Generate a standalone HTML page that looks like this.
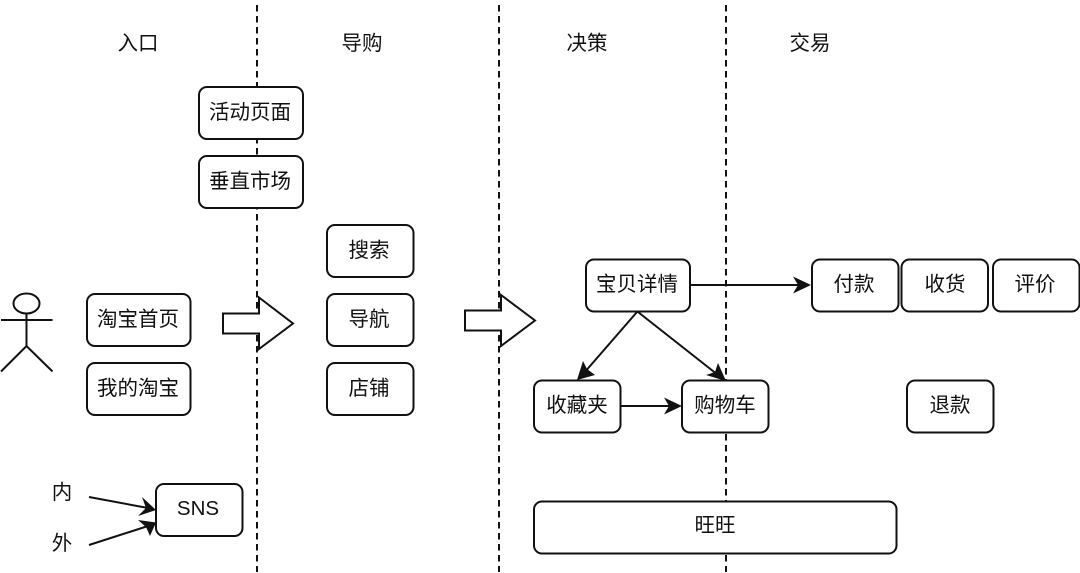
<!DOCTYPE html>
<html><head><meta charset="utf-8"><style>
html,body{margin:0;padding:0;background:#fff;width:1080px;height:573px;overflow:hidden}
svg{display:block}
text{font-family:"Liberation Sans","Noto Sans CJK SC",sans-serif;font-size:20.5px;fill:#111;text-anchor:middle}
.b{fill:#fff;stroke:#111;stroke-width:2}
.l{stroke:#111;stroke-width:2;fill:none}
.d{stroke:#111;stroke-width:2;stroke-dasharray:6.500 4.500;fill:none}
.h{fill:#111;stroke:none}
</style></head><body>
<svg width="1080" height="573" viewBox="0 0 1080 573" xmlns="http://www.w3.org/2000/svg">
<line class="d" x1="257" y1="5" x2="257" y2="572"/>
<line class="d" x1="499" y1="5" x2="499" y2="572"/>
<line class="d" x1="726" y1="5" x2="726" y2="572"/>

<text x="138" y="50">入口</text>
<text x="362" y="50">导购</text>
<text x="587" y="50">决策</text>
<text x="810" y="50">交易</text>

<rect class="b" x="199" y="87" width="104" height="52" rx="8"/><text x="250" y="119">活动页面</text>
<rect class="b" x="199" y="156" width="104" height="52" rx="8"/><text x="250" y="188">垂直市场</text>
<rect class="b" x="327" y="225" width="86.500" height="52" rx="8"/><text x="369" y="257">搜索</text>
<rect class="b" x="327" y="294" width="86.500" height="52" rx="8"/><text x="369" y="326">导航</text>
<rect class="b" x="327" y="363" width="86.500" height="52" rx="8"/><text x="369" y="395">店铺</text>
<rect class="b" x="87" y="294" width="103.500" height="52" rx="8"/><text x="138" y="326">淘宝首页</text>
<rect class="b" x="87" y="363" width="103.500" height="52" rx="8"/><text x="138" y="395">我的淘宝</text>
<rect class="b" x="156" y="484" width="86.500" height="52" rx="8"/><text x="198" y="515">SNS</text>
<rect class="b" x="586" y="259.500" width="104" height="52" rx="8"/><text x="637" y="291">宝贝详情</text>
<rect class="b" x="812" y="259.500" width="86.500" height="52" rx="8"/><text x="854" y="291">付款</text>
<rect class="b" x="901.500" y="259.500" width="86.500" height="52" rx="8"/><text x="945" y="291">收货</text>
<rect class="b" x="993" y="259.500" width="86.500" height="52" rx="8"/><text x="1035" y="291">评价</text>
<rect class="b" x="534" y="380.500" width="86.500" height="52" rx="8"/><text x="577" y="412">收藏夹</text>
<rect class="b" x="682" y="380.500" width="86.500" height="52" rx="8"/><text x="725" y="412">购物车</text>
<rect class="b" x="907" y="380.500" width="86.500" height="52" rx="8"/><text x="950" y="412">退款</text>
<rect class="b" x="534" y="501.500" width="362.500" height="52" rx="8"/><text x="715" y="532">旺旺</text>
<text x="62" y="499">内</text>
<text x="62" y="550">外</text>

<ellipse class="b" cx="26.500" cy="303.500" rx="13" ry="10"/>
<path class="l" d="M26.500 314V346M1 320H52.500M1 371.500L26.500 346L52.500 371.500"/>

<path class="b" d="M223 313.500H259V297.500L293 323.500L259 349V333.500H223Z"/>
<path class="b" d="M465 310.500H501V295L535 320.500L501 346V330.500H465Z"/>

<path class="l" d="M691 285H800"/>
<path class="h" d="M811 285L793 276.500L798 285L793 293.500Z"/>
<path class="l" d="M637 312L584 373"/>
<path class="h" d="M577 380L595 375L587 369L583 361Z"/>
<path class="l" d="M638 312L718 375"/>
<path class="h" d="M726 381L718 363L715 372L706 375Z"/>
<path class="l" d="M621 406H670"/>
<path class="h" d="M682 406L664 397.500L669 406L664 414.500Z"/>
<path class="l" d="M89 497L148 508"/>
<path class="h" d="M156 510L142 497L146 508L138 516Z"/>
<path class="l" d="M89 545L148 526"/>
<path class="h" d="M156 522.500L138 520L146 527L150 536Z"/>
</svg>
</body></html>
